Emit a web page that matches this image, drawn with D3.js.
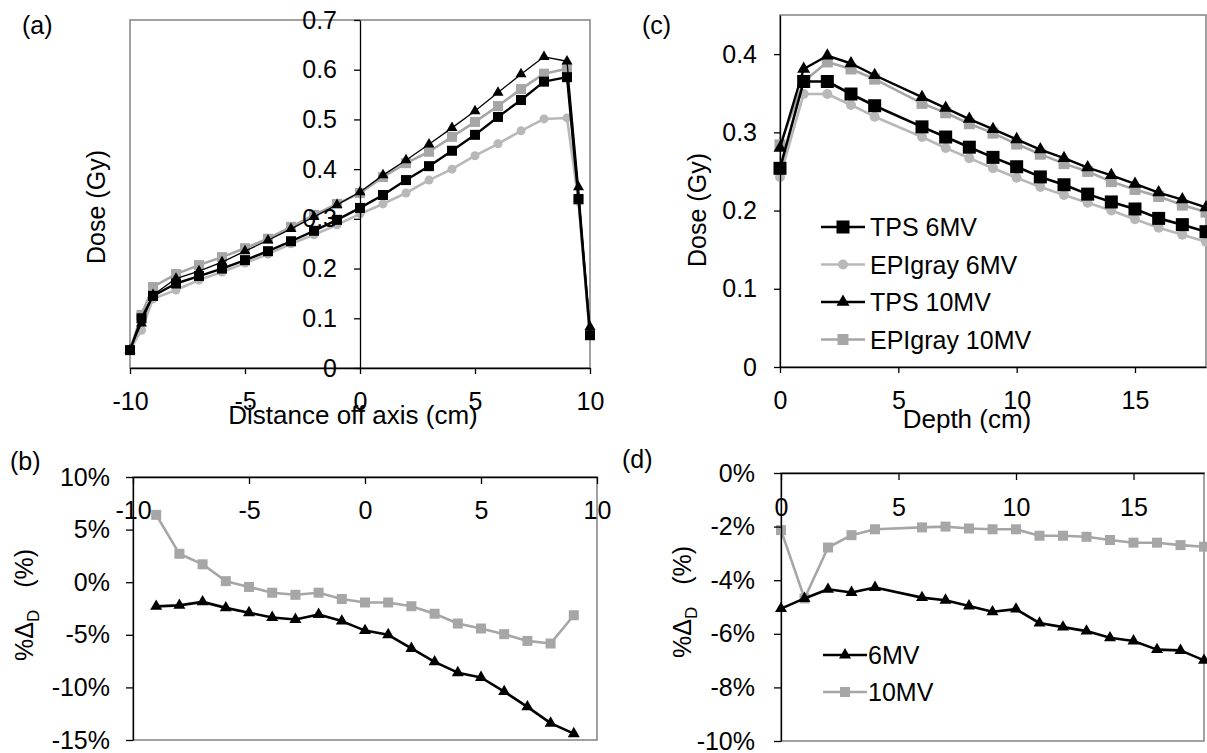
<!DOCTYPE html>
<html lang="en">
<head>
<meta charset="utf-8">
<title>Dose profiles TPS vs EPIgray</title>
<script src="https://cdnjs.cloudflare.com/ajax/libs/d3/7.8.5/d3.min.js"></script>
<style>
  body { margin: 0; background: #fff; }
  svg { display: block; }
  text { font-family: "Liberation Sans", Arial, sans-serif; fill: #000; }
  .frame { fill: none; stroke: #8a8a8a; stroke-width: 1.6; }
  .axis path, .axis line { stroke: #000; stroke-width: 1.3; }
  .axis text { font-size: 25px; font-family: "Liberation Sans", Arial, sans-serif; }
</style>
</head>
<body>
<svg width="1207" height="753"></svg>
<script>
// (a) off-axis profile, dose in Gy
const distA = [-10, -9.5, -9, -8, -7, -6, -5, -4, -3, -2, -1, 0, 1, 2, 3, 4, 5, 6, 7, 8, 9, 9.5, 10];
const tps6A = [0.036, 0.100, 0.145, 0.170, 0.185, 0.200, 0.217, 0.235, 0.255, 0.276, 0.298, 0.322, 0.348, 0.378, 0.406, 0.437, 0.469, 0.505, 0.539, 0.576, 0.585, 0.340, 0.066];
const epi6A = [0.036, 0.076, 0.139, 0.157, 0.177, 0.193, 0.211, 0.229, 0.250, 0.268, 0.288, 0.310, 0.330, 0.352, 0.378, 0.400, 0.427, 0.451, 0.477, 0.501, 0.503, 0.335, 0.065];
const tps10A = [0.036, 0.090, 0.147, 0.180, 0.195, 0.213, 0.235, 0.257, 0.280, 0.304, 0.328, 0.354, 0.388, 0.418, 0.450, 0.483, 0.517, 0.554, 0.591, 0.626, 0.617, 0.364, 0.083];
const epi10A = [0.036, 0.107, 0.163, 0.189, 0.207, 0.223, 0.241, 0.260, 0.284, 0.308, 0.330, 0.352, 0.384, 0.412, 0.435, 0.465, 0.495, 0.527, 0.561, 0.592, 0.602, 0.338, 0.066];

// (c) depth dose, Gy
const depthC = [0, 1, 2, 3, 4, 6, 7, 8, 9, 10, 11, 12, 13, 14, 15, 16, 17, 18];
const tps6C = [0.254, 0.365, 0.365, 0.349, 0.334, 0.307, 0.294, 0.281, 0.268, 0.256, 0.243, 0.233, 0.221, 0.211, 0.202, 0.190, 0.182, 0.173];
const epi6C = [0.243, 0.349, 0.349, 0.335, 0.320, 0.294, 0.280, 0.267, 0.254, 0.242, 0.230, 0.220, 0.210, 0.200, 0.189, 0.178, 0.169, 0.160];
const tps10C = [0.280, 0.381, 0.398, 0.388, 0.373, 0.345, 0.331, 0.317, 0.304, 0.291, 0.278, 0.267, 0.255, 0.245, 0.234, 0.223, 0.214, 0.204];
const epi10C = [0.284, 0.365, 0.390, 0.381, 0.368, 0.337, 0.325, 0.311, 0.299, 0.285, 0.272, 0.260, 0.250, 0.237, 0.227, 0.218, 0.207, 0.198];

// (b) percent difference along the profile
const distB = [-9, -8, -7, -6, -5, -4, -3, -2, -1, 0, 1, 2, 3, 4, 5, 6, 7, 8, 9];
const diff6B = [-2.3, -2.2, -1.87, -2.44, -2.9, -3.36, -3.55, -3.07, -3.7, -4.6, -5.0, -6.3, -7.57, -8.6, -9.06, -10.4, -11.85, -13.4, -14.4];
const diff10B = [6.4, 2.7, 1.7, 0.1, -0.45, -1.0, -1.2, -1.0, -1.6, -1.93, -1.93, -2.28, -3.0, -3.93, -4.4, -4.94, -5.58, -5.83, -3.14];

// (d) percent difference with depth
const depthD = [0, 1, 2, 3, 4, 6, 7, 8, 9, 10, 11, 12, 13, 14, 15, 16, 17, 18];
const diff6D = [-5.06, -4.68, -4.34, -4.46, -4.27, -4.65, -4.75, -4.96, -5.18, -5.08, -5.6, -5.75, -5.9, -6.15, -6.27, -6.59, -6.62, -6.99];
const diff10D = [-2.13, -4.68, -2.78, -2.32, -2.1, -2.03, -2.0, -2.07, -2.1, -2.1, -2.34, -2.34, -2.38, -2.5, -2.6, -2.6, -2.69, -2.75];

// ticks
const xTicksA = [-10, -5, 0, 5, 10];
const yTicksA = [0, 0.1, 0.2, 0.3, 0.4, 0.5, 0.6, 0.7];
const xTicksC = [0, 5, 10, 15];
const yTicksC = [0, 0.1, 0.2, 0.3, 0.4];
const yTicksB = [10, 5, 0, -5, -10, -15];
const yTicksD = [0, -2, -4, -6, -8, -10];
const legendC = ["TPS 6MV", "EPIgray 6MV", "TPS 10MV", "EPIgray 10MV"];
const legendD = ["6MV", "10MV"];

const svg = d3.select("svg");
const BLACK = "#000", GRAY = "#a6a6a6", LGRAY = "#b8b8b8";

// excel style: plain hyphen for negatives
const intFmt = d => String(d);
const doseFmt = d => d === 0 ? "0" : d.toFixed(1);
const pctFmt = d => Math.round(d) + "%";

// one marker at (x,y)
function marker(g, type, x, y, size, color) {
  if (type === "square") {
    g.append("rect").attr("x", x - size / 2).attr("y", y - size / 2)
      .attr("width", size).attr("height", size).attr("fill", color);
  } else if (type === "circle") {
    g.append("circle").attr("cx", x).attr("cy", y).attr("r", size / 2).attr("fill", color);
  } else {
    const a = size * size * Math.sqrt(3) / 4;
    g.append("path").attr("d", d3.symbol(d3.symbolTriangle, a)())
      .attr("transform", `translate(${x},${y})`).attr("fill", color);
  }
}

function series(g, xs, ys, xScale, yScale, s) {
  const pts = xs.map((d, i) => [xScale(d), yScale(ys[i])]);
  g.append("path").attr("d", d3.line()(pts))
    .attr("fill", "none").attr("stroke", s.color).attr("stroke-width", s.width)
    .attr("stroke-linejoin", "round");
  const mg = g.append("g");
  pts.forEach(p => marker(mg, s.marker, p[0], p[1], s.size, s.color));
}

function frame(x0, x1, y0, y1) {
  svg.append("rect").attr("class", "frame")
    .attr("x", x0).attr("y", y0).attr("width", x1 - x0).attr("height", y1 - y0);
}

function label(txt, x, y, size) {
  svg.append("text").attr("x", x).attr("y", y).attr("font-size", size || 25).text(txt);
}

function yTitleDose(x, y) {
  svg.append("text").attr("transform", `translate(${x},${y}) rotate(-90)`)
    .attr("text-anchor", "middle").attr("font-size", 25).text("Dose (Gy)");
}

function yTitlePct(x, y) {
  const t = svg.append("text").attr("transform", `translate(${x},${y}) rotate(-90)`)
    .attr("text-anchor", "middle").attr("font-size", 25);
  t.append("tspan").text("%\u0394");
  t.append("tspan").attr("font-size", 17).attr("dy", 6).text("D");
  t.append("tspan").attr("dy", -6).attr("dx", 22).text("(%)");
}

// ---------- (a) ----------
const xA = d3.scaleLinear([-10, 10], [130, 590]);
const yA = d3.scaleLinear([0, 0.7], [368, 20]);
frame(130, 590, 20, 368);
const gA = svg.append("g");
series(gA, distA, epi6A, xA, yA, { color: LGRAY, width: 2.6, marker: "circle", size: 9 });
series(gA, distA, epi10A, xA, yA, { color: GRAY, width: 2.6, marker: "square", size: 10 });
series(gA, distA, tps6A, xA, yA, { color: BLACK, width: 2.4, marker: "square", size: 10 });
series(gA, distA, tps10A, xA, yA, { color: BLACK, width: 1.3, marker: "triangle", size: 11 });
svg.append("g").attr("class", "axis").attr("transform", "translate(0,368)")
  .call(d3.axisBottom(xA).tickValues(xTicksA).tickSize(6).tickSizeOuter(0).tickPadding(18).tickFormat(intFmt));
svg.append("g").attr("class", "axis").attr("transform", `translate(${xA(0)},0)`)
  .call(d3.axisLeft(yA).tickValues(yTicksA).tickSize(6).tickSizeOuter(0).tickPadding(17).tickFormat(doseFmt));
svg.append("text").attr("x", 353).attr("y", 424).attr("text-anchor", "middle")
  .attr("font-size", 26).text("Distance off axis (cm)");
yTitleDose(105, 207);
label("(a)", 22, 34);

// ---------- (c) ----------
const xC = d3.scaleLinear([0, 18], [780, 1206]);
const yC = d3.scaleLinear([0, 0.45], [367, 15]);
frame(780, 1206, 15, 367);
const gC = svg.append("g");
const stC = [
  { color: BLACK, width: 2.6, marker: "square", size: 13 },
  { color: LGRAY, width: 2.6, marker: "circle", size: 10 },
  { color: BLACK, width: 2.4, marker: "triangle", size: 13 },
  { color: GRAY, width: 2.6, marker: "square", size: 11 }
];
series(gC, depthC, epi6C, xC, yC, stC[1]);
series(gC, depthC, epi10C, xC, yC, stC[3]);
series(gC, depthC, tps6C, xC, yC, stC[0]);
series(gC, depthC, tps10C, xC, yC, stC[2]);
svg.append("g").attr("class", "axis").attr("transform", "translate(0,367)")
  .call(d3.axisBottom(xC).tickValues(xTicksC).tickSize(6).tickSizeOuter(0).tickPadding(18).tickFormat(intFmt));
svg.append("g").attr("class", "axis").attr("transform", "translate(780,0)")
  .call(d3.axisLeft(yC).tickValues(yTicksC).tickSize(6).tickSizeOuter(0).tickPadding(17).tickFormat(doseFmt));
svg.append("text").attr("x", 967).attr("y", 428).attr("text-anchor", "middle")
  .attr("font-size", 26).text("Depth (cm)");
yTitleDose(706, 210);
label("(c)", 642, 34);

const lgC = svg.append("g");
legendC.forEach((name, i) => {
  const y = 227 + i * 37.5;
  lgC.append("line").attr("x1", 821).attr("x2", 865).attr("y1", y).attr("y2", y)
    .attr("stroke", stC[i].color).attr("stroke-width", stC[i].width);
  marker(lgC, stC[i].marker, 843, y, stC[i].size, stC[i].color);
  lgC.append("text").attr("x", 870).attr("y", y + 9).attr("font-size", 25).text(name);
});

// ---------- (b) ----------
const xB = d3.scaleLinear([-10, 10], [133, 597]);
const yB = d3.scaleLinear([-15, 10], [740, 477]);
frame(133, 597, 477, 740);
const gB = svg.append("g");
const stB = [
  { color: BLACK, width: 2.6, marker: "triangle", size: 12 },
  { color: GRAY, width: 2.6, marker: "square", size: 10 }
];
series(gB, distB, diff10B, xB, yB, stB[1]);
series(gB, distB, diff6B, xB, yB, stB[0]);
svg.append("g").attr("class", "axis").attr("transform", "translate(0,477)")
  .call(d3.axisBottom(xB).tickValues(xTicksA).tickSize(7).tickSizeOuter(0).tickPadding(17).tickFormat(intFmt));
svg.append("g").attr("class", "axis").attr("transform", "translate(133,0)")
  .call(d3.axisLeft(yB).tickValues(yTicksB).tickSize(7).tickSizeOuter(0).tickPadding(16).tickFormat(pctFmt));
yTitlePct(33, 605);
label("(b)", 10, 470);

// ---------- (d) ----------
const xD = d3.scaleLinear([0, 18], [781, 1204]);
const yD = d3.scaleLinear([-10, 0], [741, 473]);
frame(781, 1204, 473, 741);
const gD = svg.append("g");
series(gD, depthD, diff10D, xD, yD, stB[1]);
series(gD, depthD, diff6D, xD, yD, stB[0]);
svg.append("g").attr("class", "axis").attr("transform", "translate(0,473)")
  .call(d3.axisBottom(xD).tickValues(xTicksC).tickSize(7).tickSizeOuter(0).tickPadding(18).tickFormat(intFmt));
svg.append("g").attr("class", "axis").attr("transform", "translate(781,0)")
  .call(d3.axisLeft(yD).tickValues(yTicksD).tickSize(7).tickSizeOuter(0).tickPadding(19).tickFormat(pctFmt));
yTitlePct(691, 602);
label("(d)", 622, 468);

const lgD = svg.append("g");
legendD.forEach((name, i) => {
  const y = 655 + i * 37;
  lgD.append("line").attr("x1", 823).attr("x2", 867).attr("y1", y).attr("y2", y)
    .attr("stroke", stB[i].color).attr("stroke-width", stB[i].width);
  marker(lgD, stB[i].marker, 845, y, stB[i].size, stB[i].color);
  lgD.append("text").attr("x", 868).attr("y", y + 9).attr("font-size", 25).text(name);
});
</script>
</body>
</html>
